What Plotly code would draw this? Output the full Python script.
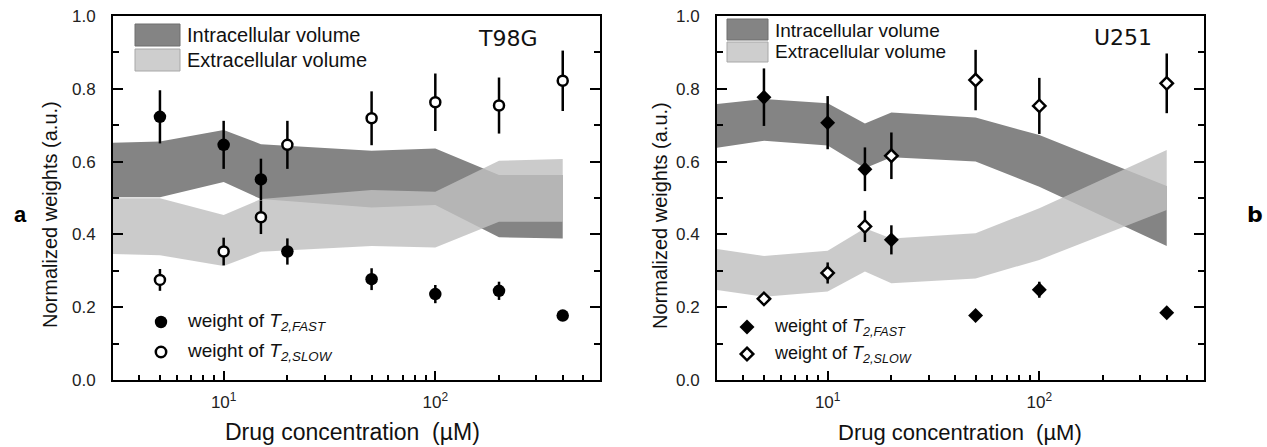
import math
import plotly.graph_objects as go

W, H = 1267, 447

# ---------------- data ----------------
# T98G (panel a)
conc_t = [5, 10, 15, 20, 50, 100, 200, 400]
fast_t = [0.723, 0.646, 0.551, 0.353, 0.277, 0.236, 0.245, 0.177]
fast_t_err = [0.073, 0.066, 0.057, 0.036, 0.030, 0.025, 0.025, 0.005]
slow_t = [0.275, 0.353, 0.447, 0.646, 0.719, 0.763, 0.754, 0.822]
slow_t_err = [0.030, 0.038, 0.046, 0.066, 0.074, 0.079, 0.077, 0.083]

band_x_t = [3, 5, 10, 15, 50, 100, 200, 400]
intra_hi_t = [0.652, 0.655, 0.687, 0.648, 0.630, 0.636, 0.563, 0.563]
intra_lo_t = [0.502, 0.502, 0.544, 0.497, 0.474, 0.481, 0.392, 0.389]
extra_hi_t = [0.499, 0.499, 0.453, 0.497, 0.522, 0.517, 0.602, 0.607]
extra_lo_t = [0.346, 0.343, 0.313, 0.352, 0.368, 0.364, 0.435, 0.435]

# U251 (panel b)
conc_u = [5, 10, 15, 20, 50, 100, 400]
fast_u = [0.777, 0.707, 0.579, 0.385, 0.177, 0.248, 0.185]
fast_u_err = [0.079, 0.073, 0.060, 0.040, 0.005, 0.022, 0.005]
slow_u = [0.223, 0.294, 0.422, 0.616, 0.824, 0.753, 0.815]
slow_u_err = [0.005, 0.029, 0.043, 0.064, 0.083, 0.077, 0.082]

band_x_u = [3, 5, 10, 15, 20, 50, 100, 400]
intra_hi_u = [0.758, 0.772, 0.760, 0.705, 0.735, 0.721, 0.673, 0.533]
intra_lo_u = [0.638, 0.657, 0.644, 0.582, 0.612, 0.600, 0.531, 0.368]
extra_hi_u = [0.360, 0.341, 0.355, 0.417, 0.389, 0.403, 0.472, 0.632]
extra_lo_u = [0.247, 0.229, 0.243, 0.298, 0.266, 0.279, 0.330, 0.467]

x_tick_vals = [10, 100]
x_tick_text = ["10<sup>1</sup>", "10<sup>2</sup>"]
y_tick_vals = [0.0, 0.2, 0.4, 0.6, 0.8, 1.0]
y_tick_text = ["0.0", "0.2", "0.4", "0.6", "0.8", "1.0"]
x_minor_vals = [3, 4, 5, 6, 7, 8, 9, 20, 30, 40, 50, 60, 70, 80, 90, 200, 300, 400, 500]

DARK = "rgb(132,132,132)"
LIGHT = "rgba(192,192,192,0.82)"
FONT = "Liberation Sans, Arial, sans-serif"


def px(x):
    return x / W


def py(y):
    return 1 - y / H


fig = go.Figure()


def band(xs, hi, lo, color, xa, ya):
    fig.add_trace(go.Scatter(
        x=list(xs) + list(xs)[::-1], y=list(hi) + list(lo)[::-1],
        fill="toself", fillcolor=color, line=dict(width=0), mode="lines",
        hoverinfo="skip", xaxis=xa, yaxis=ya, showlegend=False))


def pts(xs, ys, err, symbol, size, filled, xa, ya):
    fig.add_trace(go.Scatter(
        x=xs, y=ys, mode="markers", xaxis=xa, yaxis=ya, showlegend=False,
        error_y=dict(type="data", array=err, visible=True, color="black",
                     thickness=2.5, width=0),
        marker=dict(symbol=symbol, size=size,
                    color="black" if filled else "white",
                    line=dict(color="black", width=0 if filled else 2.5))))


band(band_x_t, intra_hi_t, intra_lo_t, DARK, "x", "y")
band(band_x_t, extra_hi_t, extra_lo_t, LIGHT, "x", "y")
pts(conc_t, fast_t, fast_t_err, "circle", 12.5, True, "x", "y")
pts(conc_t, slow_t, slow_t_err, "circle", 10, False, "x", "y")

band(band_x_u, intra_hi_u, intra_lo_u, DARK, "x2", "y2")
band(band_x_u, extra_hi_u, extra_lo_u, LIGHT, "x2", "y2")
pts(conc_u, fast_u, fast_u_err, "diamond", 11.5, True, "x2", "y2")
pts(conc_u, slow_u, slow_u_err, "diamond", 9.5, False, "x2", "y2")

ydom = [py(380), py(16)]
xdom1 = [px(113), px(600)]
xdom2 = [px(717), px(1204)]

xcommon = dict(type="log", range=[math.log10(3), math.log10(600)],
               tickvals=x_tick_vals, ticktext=x_tick_text,
               ticks="inside", ticklen=9, tickwidth=2, tickcolor="black",
               showline=True, linewidth=2, linecolor="black", mirror=True,
               showgrid=False, zeroline=False, automargin=False,
               tickfont=dict(family=FONT, size=17, color="#222"),
               ticklabelstandoff=6,
               minor=dict(tickvals=x_minor_vals, ticks="inside", ticklen=5,
                          tickwidth=2, tickcolor="black", showgrid=False))
ycommon = dict(range=[0, 1.0], tickvals=y_tick_vals, ticktext=y_tick_text,
               ticks="inside", ticklen=10, tickwidth=2, tickcolor="black",
               showline=True, linewidth=2, linecolor="black", mirror="ticks",
               showgrid=False, zeroline=False, automargin=False,
               tickfont=dict(family=FONT, size=17, color="#222"),
               ticklabelstandoff=12,
               minor=dict(dtick=0.1, ticks="inside", ticklen=6, tickwidth=2,
                          tickcolor="black", showgrid=False))

fig.update_layout(
    width=W, height=H, autosize=False,
    margin=dict(l=0, r=0, t=0, b=0, pad=0, autoexpand=False),
    paper_bgcolor="white", plot_bgcolor="white", showlegend=False,
    xaxis=dict(domain=xdom1, anchor="y", **xcommon),
    yaxis=dict(domain=ydom, anchor="x", **ycommon),
    xaxis2=dict(domain=xdom2, anchor="y2", **xcommon),
    yaxis2=dict(domain=ydom, anchor="x2", **ycommon),
)

shapes = []
annots = []


def rect(x0, y0, x1, y1, fill, line):
    shapes.append(dict(type="rect", xref="paper", yref="paper",
                       x0=px(x0), x1=px(x1), y0=py(y1), y1=py(y0),
                       fillcolor=fill, line=dict(color=line, width=1)))


def text(x, y, s, size, xanchor="left", family=FONT, color="#111", angle=0):
    annots.append(dict(xref="paper", yref="paper", x=px(x), y=py(y), text=s,
                       showarrow=False, xanchor=xanchor, yanchor="middle",
                       textangle=angle,
                       font=dict(family=family, size=size, color=color)))


# band legends
rect(135, 24, 180, 46, "rgb(132,132,132)", "#6e6e6e")
rect(135, 49, 180, 71, "rgb(206,206,206)", "#a8a8a8")
text(185, 35, "Intracellular volume", 20)
text(185, 60, "Extracellular volume", 20)

rect(727, 19, 768, 40, "rgb(132,132,132)", "#6e6e6e")
rect(727, 42, 768, 62, "rgb(206,206,206)", "#a8a8a8")
text(773, 30, "Intracellular volume", 19)
text(773, 52, "Extracellular volume", 19)


# marker legends
def circ(cx, cy, r, filled):
    shapes.append(dict(type="circle", xref="paper", yref="paper",
                       x0=px(cx - r), x1=px(cx + r), y0=py(cy + r), y1=py(cy - r),
                       fillcolor="black" if filled else "white",
                       line=dict(color="black", width=0 if filled else 2.5)))


def diam(cx, cy, r, filled):
    path = "M %f,%f L %f,%f L %f,%f L %f,%f Z" % (
        px(cx), py(cy - r), px(cx + r), py(cy), px(cx), py(cy + r), px(cx - r), py(cy))
    shapes.append(dict(type="path", xref="paper", yref="paper", path=path,
                       fillcolor="black" if filled else "white",
                       line=dict(color="black", width=0 if filled else 2.5)))


circ(161, 322, 6.2, True)
circ(161, 352, 5.2, False)
text(185, 322, "weight of <i>T</i><sub><i>2,FAST</i></sub>", 19)
text(185, 352, "weight of <i>T</i><sub><i>2,SLOW</i></sub>", 19)

diam(747, 327, 7.5, True)
diam(747, 354, 6.3, False)
text(772, 327, "weight of <i>T</i><sub><i>2,FAST</i></sub>", 18)
text(772, 354, "weight of <i>T</i><sub><i>2,SLOW</i></sub>", 18)

# cell-line labels
text(507, 39, "T98G", 22, xanchor="center", family="DejaVu Sans")
text(1123, 38, "U251", 22, xanchor="center", family="DejaVu Sans")

# panel letters
text(20, 214, "<b>a</b>", 22, xanchor="center", color="#000")
text(1255, 215, "<b>b</b>", 22, xanchor="center", family="DejaVu Sans", color="#000")

# axis titles
text(352, 432, "Drug concentration  (µM)", 23, xanchor="center")
text(960, 432, "Drug concentration  (µM)", 22, xanchor="center")
text(50, 215, "Normalized weights (a.u.)", 20, xanchor="center", angle=-90)
text(660, 215, "Normalized weights (a.u.)", 20, xanchor="center", angle=-90)

fig.update_layout(shapes=shapes, annotations=annots)
fig.write_html(
    "out.html",
    config={"displayModeBar": False, "responsive": False},
    post_script=(
        "document.documentElement.style.margin='0px';"
        "document.body.style.margin='0px';"
        "document.documentElement.style.overflow='hidden';"
        "document.body.style.overflow='hidden';"
        "var gd=document.getElementById('{plot_id}');"
        "gd.style.position='fixed';gd.style.left='0px';gd.style.top='0px';"
    ),
)
